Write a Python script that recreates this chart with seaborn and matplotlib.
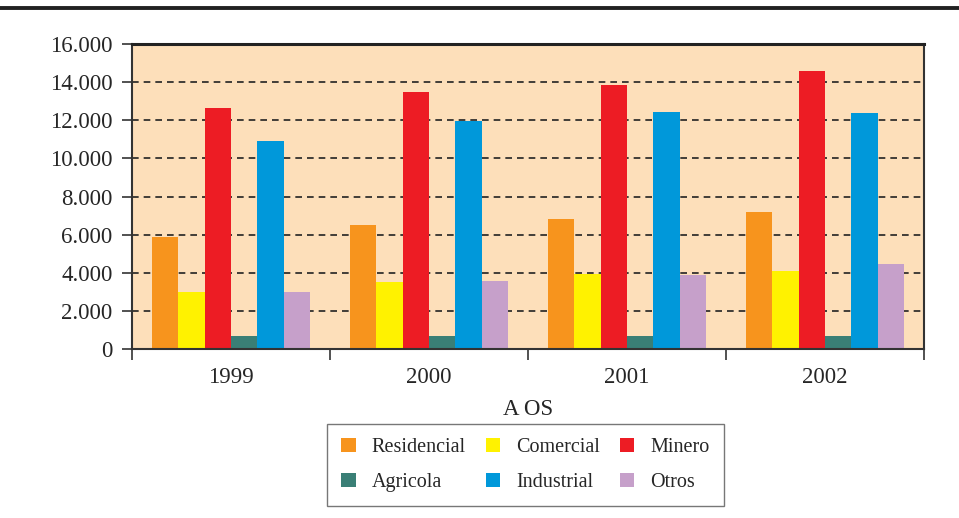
import seaborn as sns
import matplotlib.pyplot as plt
import pandas as pd
from matplotlib.patches import Patch
from matplotlib.lines import Line2D
from matplotlib.ticker import FuncFormatter, FixedLocator

# Datos
anios = ["1999", "2000", "2001", "2002"]
sectores = ["Residencial", "Comercial", "Minero", "Agricola", "Industrial", "Otros"]
residencial = [5850, 6530, 6840, 7210]
comercial = [3000, 3510, 3940, 4090]
minero = [12630, 13470, 13840, 14580]
agricola = [680, 680, 680, 680]
industrial = [10890, 11950, 12420, 12370]
otros = [3000, 3560, 3880, 4460]
colores = ["#F7941D", "#FFF200", "#ED1C24", "#3A7F76", "#0098DA", "#C6A0CA"]

series = [residencial, comercial, minero, agricola, industrial, otros]
filas = []
for sector, valores in zip(sectores, series):
    for anio, v in zip(anios, valores):
        filas.append({"anio": anio, "sector": sector, "valor": v})
df = pd.DataFrame(filas)

sns.set_style("white")
plt.rcParams["font.family"] = ["Liberation Serif", "DejaVu Serif"]
plt.rcParams["font.size"] = 16

fig = plt.figure(figsize=(9.59, 5.18), dpi=100)
ax = fig.add_axes([0.1376, 0.3263, 0.8259, 0.5887])
ax.set_facecolor("#FDDFBA")

sns.barplot(data=df, x="anio", y="valor", hue="sector", hue_order=sectores,
            order=anios, palette=colores, width=0.8, gap=0, saturation=1,
            linewidth=0, ax=ax, legend=False)

ax.set_ylim(0, 16000)
ax.set_xlim(-0.5, 3.5)
ax.set_yticks(range(0, 16001, 2000))
ax.yaxis.set_major_formatter(FuncFormatter(lambda v, p: f"{int(v):,}".replace(",", ".")))
ax.tick_params(axis="y", direction="out", length=7, width=1.2, color="#333333",
               labelsize=16.5, pad=7, left=True)
ax.tick_params(axis="x", which="major", length=0, labelsize=16.5, pad=13)
ax.xaxis.set_minor_locator(FixedLocator([-0.5, 0.5, 1.5, 2.5, 3.5]))
ax.tick_params(axis="x", which="minor", direction="out", length=8, width=1.2,
               color="#333333", bottom=True)

for y in range(2000, 16000, 2000):
    ax.axhline(y, color="#222222", linestyle=(0, (4, 3)), linewidth=1.2, zorder=0.5)

for lado in ["left", "right", "bottom"]:
    ax.spines[lado].set_color("#333333")
    ax.spines[lado].set_linewidth(1.5)
ax.spines["top"].set_color("#222222")
ax.spines["top"].set_linewidth(2.2)

ax.set_ylabel("")
ax.set_xlabel("A OS", fontsize=16.5, labelpad=8)

# Leyenda en orden por filas
parches = [Patch(facecolor=c, edgecolor="none", label=s) for s, c in zip(sectores, colores)]
orden = [0, 3, 1, 4, 2, 5]
leg = fig.legend(handles=[parches[i] for i in orden], loc="center",
                 bbox_to_anchor=(0.548, 0.102), ncol=3, frameon=True, fancybox=False,
                 edgecolor="#555555", fontsize=14.5, handlelength=0.7, handleheight=0.7,
                 handletextpad=0.8, columnspacing=1.0, borderpad=0.7, borderaxespad=0.3,
                 labelspacing=0.8)
leg.get_frame().set_linewidth(1.0)

fig.add_artist(Line2D([0, 1], [1 - 8 / 518, 1 - 8 / 518], transform=fig.transFigure,
                      color="#222222", linewidth=2.8))

fig.savefig("out.png", dpi=100)
